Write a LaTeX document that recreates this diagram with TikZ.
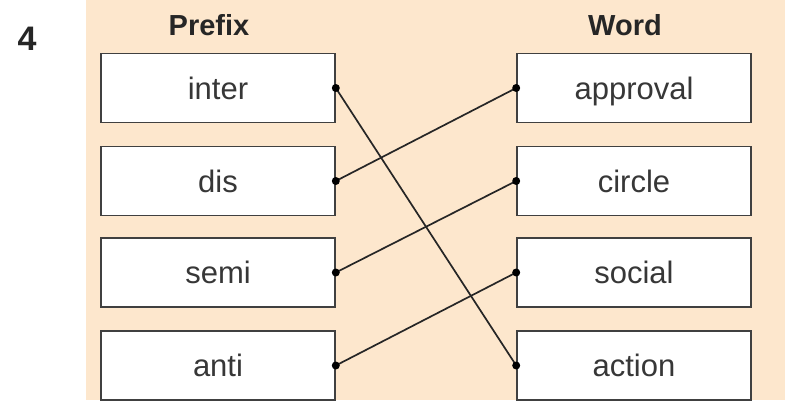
\documentclass[tikz,border=0pt]{standalone}
\usepackage{fontspec}
\setmainfont{Liberation Sans}
\definecolor{peach}{RGB}{253,231,205}
\definecolor{wordgray}{RGB}{55,55,55}

\begin{document}
\begin{tikzpicture}[x=1pt,y=1pt,
  wordbox/.style={draw=black!75, line width=1.6pt, fill=white, minimum width=234pt,
    minimum height=69pt, inner sep=0pt, text height=22pt, text depth=0pt,
    text=wordgray, font=\fontsize{31}{34}\selectfont},
  heading/.style={font=\bfseries\fontsize{29}{32}\selectfont, text=black!85},
  link/.style={line width=1.7pt, black!85}]
\useasboundingbox (0,0) rectangle (785,400);
\def\dotR{4}
%
\fill[peach] (86,0) rectangle (785,400);
\node[heading, font=\bfseries\fontsize{34}{36}\selectfont] (num) at (27,361) {4};
\node[heading] (prefixhead) at (209,375) {Prefix};
\node[heading] (wordhead) at (625,375) {Word};
%
% Prefixes :
\node[wordbox] (inter) at (218,312) {inter};
\node[wordbox] (dis)   at (218,219) {dis};
\node[wordbox] (semi)  at (218,127.5) {semi};
\node[wordbox] (anti)  at (218,34.5) {anti};
%
% Words :
\node[wordbox] (approval) at (634,312) {approval};
\node[wordbox] (circle)   at (634,219) {circle};
\node[wordbox] (social)   at (634,127.5) {social};
\node[wordbox] (action)   at (634,34.5) {action};
%
% Links :
\draw[link] (inter.east) -- (action.west);
\draw[link] (dis.east) -- (approval.west);
\draw[link] (semi.east) -- (circle.west);
\draw[link] (anti.east) -- (social.west);
\foreach \n in {inter,dis,semi,anti}
  \fill (\n.east) circle (\dotR);
\foreach \n in {approval,circle,social,action}
  \fill (\n.west) circle (\dotR);
\end{tikzpicture}
\end{document}
